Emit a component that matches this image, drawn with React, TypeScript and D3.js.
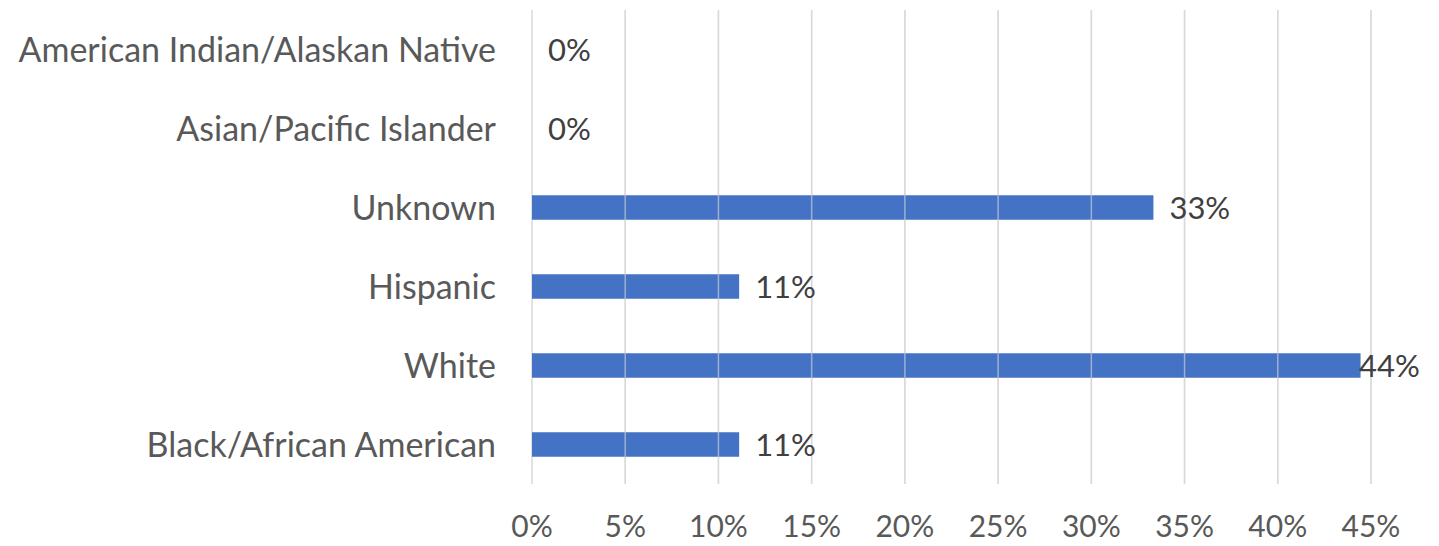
import React from "react";
import * as d3 from "d3";

const categories = [
  "American Indian/Alaskan Native",
  "Asian/Pacific Islander",
  "Unknown",
  "Hispanic",
  "White",
  "Black/African American",
];
const values = [0, 0, 0.3333, 0.1111, 0.4444, 0.1111];
const ticks = [0, 0.05, 0.1, 0.15, 0.2, 0.25, 0.3, 0.35, 0.4, 0.45];

const W = 1439;
const H = 546;
const FONT = "Lato, 'Open Sans', sans-serif";

export default function App() {
  const x = d3.scaleLinear().domain([0, 0.45]).range([532, 1371]);
  const y = d3.scaleBand<string>().domain(categories).range([10, 484]).paddingInner(0.69).paddingOuter(0.345);
  const fmt = d3.format(".0%");
  return (
    <svg width={W} height={H} style={{ position: "absolute", left: 0, top: 0, background: "#fff" }} fontFamily={FONT}>
      {ticks.map((t) => (
        <line key={"g" + t} x1={x(t)} x2={x(t)} y1={10} y2={484} stroke="#d9d9d9" strokeWidth={1.5} />
      ))}
      {categories.map((c, i) => (
        <rect key={"b" + c} x={x(0)} y={y(c)!} width={x(values[i]) - x(0)} height={y.bandwidth()} fill="#4472c4" />
      ))}
      {ticks.map((t) => (
        <line key={"g2" + t} x1={x(t)} x2={x(t)} y1={10} y2={484} stroke="#d9d9d9" strokeWidth={1.5} strokeOpacity={t === 0 ? 0 : 0.6} />
      ))}
      {categories.map((c) => (
        <text key={"l" + c} x={496} y={y(c)! + y.bandwidth() / 2} dy="0.36em" textAnchor="end" fontSize={34} fill="#595959">
          {c}
        </text>
      ))}
      {categories.map((c, i) => (
        <text key={"v" + c} x={Math.min(x(values[i]) + 16, 1359)} y={y(c)! + y.bandwidth() / 2} dy="0.36em" fontSize={31} fill="#404040">
          {fmt(values[i])}
        </text>
      ))}
      {ticks.map((t) => (
        <text key={"t" + t} x={x(t)} y={537} textAnchor="middle" fontSize={30} fill="#595959">
          {fmt(t)}
        </text>
      ))}
    </svg>
  );
}
